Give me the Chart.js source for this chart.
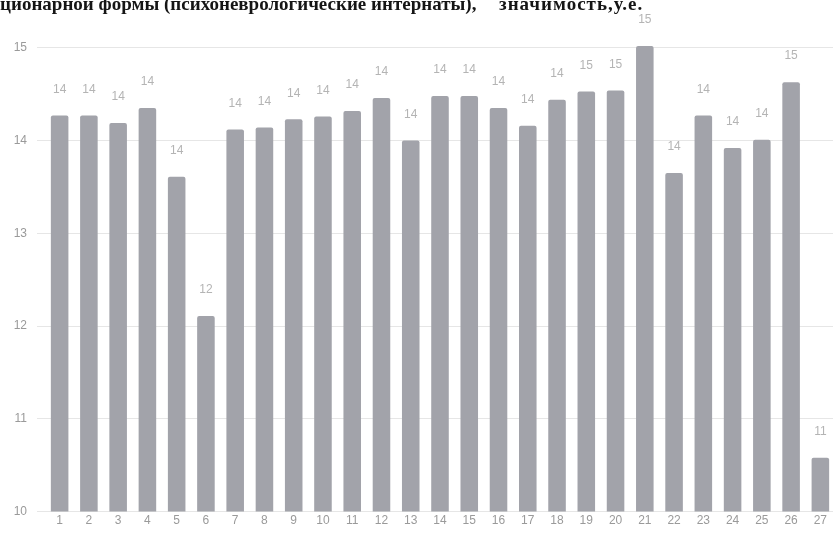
<!DOCTYPE html>
<html lang="ru">
<head>
<meta charset="utf-8">
<title>Значимость, у.е.</title>
<script src="https://cdn.jsdelivr.net/npm/chart.js@4.4.1/dist/chart.umd.min.js"></script>
<style>
  html, body { margin: 0; padding: 0; background: #ffffff; overflow: hidden; }
  canvas { display: block; }
</style>
</head>
<body>
<canvas id="chart" width="840" height="535"></canvas>
<script>
// Номера учреждений по оси X
const institutions = ['1','2','3','4','5','6','7','8','9','10','11','12','13','14','15','16','17','18','19','20','21','22','23','24','25','26','27'];

// Значимость, у.е.
const significance = [14.27, 14.27, 14.19, 14.35, 13.61, 12.11, 14.12, 14.14, 14.23, 14.26, 14.32, 14.46, 14.00, 14.48, 14.48, 14.35, 14.16, 14.44, 14.53, 14.54, 15.02, 13.65, 14.27, 13.92, 14.01, 14.63, 10.58];

// Подписи оси Y
const yTicks = [10, 11, 12, 13, 14, 15];

// Строка заголовка (две части)
const headingMain = 'ционарной формы (психоневрологические интернаты),';
const headingUnit = 'значимость,у.е.';

// Заголовок над диаграммой
const headingPlugin = {
  id: 'heading',
  afterDraw(chart) {
    const ctx = chart.ctx;
    ctx.save();
    ctx.font = 'bold 19px "Liberation Serif", serif';
    ctx.fillStyle = '#151515';
    ctx.textAlign = 'left';
    ctx.textBaseline = 'alphabetic';
    ctx.fillText(headingMain, 0, 10);
    if ('letterSpacing' in ctx) ctx.letterSpacing = '1px';
    ctx.fillText(headingUnit, 499, 10);
    ctx.restore();
  }
};

// Округлённые значения над столбцами
const valueLabels = {
  id: 'valueLabels',
  afterDatasetsDraw(chart) {
    const ctx = chart.ctx;
    const meta = chart.getDatasetMeta(0);
    ctx.save();
    ctx.font = '12px "Liberation Sans", Arial, sans-serif';
    ctx.fillStyle = '#b4b4b4';
    ctx.textAlign = 'center';
    ctx.textBaseline = 'middle';
    meta.data.forEach((bar, i) => {
      ctx.fillText(String(Math.round(significance[i])), bar.x, bar.y - 26);
    });
    ctx.restore();
  }
};

new Chart(document.getElementById('chart'), {
  type: 'bar',
  data: {
    labels: institutions,
    datasets: [{
      data: significance,
      backgroundColor: '#a2a3aa',
      borderWidth: 0,
      borderRadius: { topLeft: 2, topRight: 2 },
      borderSkipped: 'bottom',
      barPercentage: 0.6,
      categoryPercentage: 1.0
    }]
  },
  options: {
    responsive: false,
    animation: false,
    layout: { padding: { top: 20, left: 0, right: 5, bottom: 5 } },
    plugins: {
      legend: { display: false },
      title: { display: false },
      tooltip: { enabled: false }
    },
    scales: {
      x: {
        grid: { display: false, drawTicks: false },
        border: { display: false },
        ticks: {
          padding: 2,
          color: '#9a9a9a',
          font: { family: '"Liberation Sans", Arial, sans-serif', size: 12 },
          maxRotation: 0,
          autoSkip: false
        }
      },
      y: {
        min: yTicks[0],
        max: 15.3,
        afterFit(scale) { scale.width = 45; },
        afterBuildTicks(scale) { scale.ticks = yTicks.map(v => ({ value: v })); },
        grid: { color: '#e6e6e6', lineWidth: 1, drawTicks: true, tickLength: 8 },
        border: { display: false },
        ticks: {
          padding: 10,
          color: '#9a9a9a',
          font: { family: '"Liberation Sans", Arial, sans-serif', size: 12 }
        }
      }
    }
  },
  plugins: [valueLabels, headingPlugin]
});
</script>
</body>
</html>
